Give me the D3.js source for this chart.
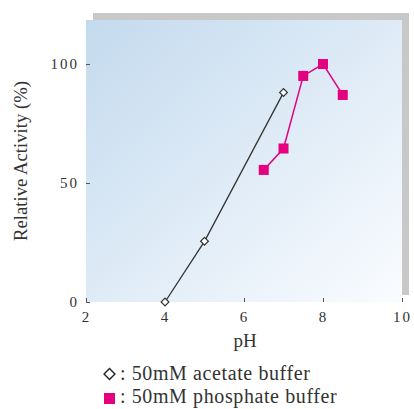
<!DOCTYPE html>
<html>
<head>
<meta charset="utf-8">
<script src="https://cdn.jsdelivr.net/npm/d3@7"></script>
<style>
  body { margin: 0; background: #fff; }
  text { font-family: "Liberation Serif", "DejaVu Serif", serif; fill: #333; }
</style>
</head>
<body>
<div id="chart"></div>
<script>
// pH activity data
const acetatePH = [4, 5, 7];
const acetateAct = [0, 25.5, 88];
const phosphatePH = [6.5, 7, 7.5, 8, 8.5];
const phosphateAct = [55.5, 64.5, 95, 100, 87];
const xTicks = [2, 4, 6, 8, 10];
const yTicks = [0, 50, 100];
const legendLabels = [": 50mM acetate buffer", ": 50mM phosphate buffer"];

const width = 414, height = 409,
      margin = ({top: 20, right: 12, bottom: 107, left: 86});

const pink = "#e4007f";

let svg = d3.select("#chart")
    .append("svg")
    .attr("width", width)
    .attr("height", height);

let x = d3.scaleLinear()
    .domain([2, 10])
    .range([margin.left, width - margin.right]);

let y = d3.scaleLinear()
    .domain([0, 118.5])
    .range([height - margin.bottom, margin.top]);

// background gradient
let grad = svg.append("defs").append("linearGradient")
    .attr("id", "bg")
    .attr("x1", "0%").attr("y1", "0%")
    .attr("x2", "100%").attr("y2", "100%");
grad.append("stop").attr("offset", "0%").attr("stop-color", "#c3daee");
grad.append("stop").attr("offset", "100%").attr("stop-color", "#fafcff");

const pw = x(10) - x(2), ph = y(0) - y(118.5);

// gray shadow panel
svg.append("rect")
    .attr("x", x(2) + 7).attr("y", y(118.5) - 7)
    .attr("width", pw).attr("height", ph)
    .attr("fill", "#c8c8c8");

svg.append("rect")
    .attr("x", x(2)).attr("y", y(118.5))
    .attr("width", pw).attr("height", ph)
    .attr("fill", "url(#bg)");

// axes (ticks inside)
let xAxis = svg.append("g")
    .attr("transform", `translate(0,${y(0)})`)
    .call(d3.axisBottom(x).tickValues(xTicks).tickSize(0).tickPadding(9));
xAxis.select(".domain").remove();
xAxis.selectAll(".tick").append("line")
    .attr("y1", -4).attr("y2", 0)
    .attr("stroke", "#555");
xAxis.selectAll("text")
    .attr("font-size", 15)
    .attr("letter-spacing", 2)
    .attr("fill", "#333");

let yAxis = svg.append("g")
    .attr("transform", `translate(${x(2)},0)`)
    .call(d3.axisLeft(y).tickValues(yTicks).tickSize(0).tickPadding(7));
yAxis.select(".domain").remove();
yAxis.selectAll(".tick").append("line")
    .attr("x1", 0).attr("x2", 4)
    .attr("stroke", "#555");
yAxis.selectAll("text")
    .attr("font-size", 15)
    .attr("letter-spacing", 2)
    .attr("fill", "#333");

// axis titles
svg.append("text")
    .attr("x", 245)
    .attr("y", 347)
    .attr("text-anchor", "middle")
    .attr("font-size", 19)
    .text("pH");

svg.append("text")
    .attr("transform", "translate(27,161) rotate(-90)")
    .attr("text-anchor", "middle")
    .attr("font-size", 18.7)
    .text("Relative Activity (%)");

// lines
let line = d3.line().x(d => x(d[0])).y(d => y(d[1]));

const acetate = d3.zip(acetatePH, acetateAct);
const phosphate = d3.zip(phosphatePH, phosphateAct);

svg.append("path")
    .datum(acetate)
    .attr("d", line)
    .attr("fill", "none")
    .attr("stroke", "#333")
    .attr("stroke-width", 1.3);

svg.append("path")
    .datum(phosphate)
    .attr("d", line)
    .attr("fill", "none")
    .attr("stroke", pink)
    .attr("stroke-width", 1.5);

const diamond = d3.symbol().type(d3.symbolSquare).size(30);

svg.selectAll(".ace")
    .data(acetate)
    .join("path")
    .attr("class", "ace")
    .attr("d", diamond)
    .attr("transform", d => `translate(${x(d[0])},${y(d[1])}) rotate(45)`)
    .attr("fill", "#fff")
    .attr("stroke", "#333")
    .attr("stroke-width", 1.2);

svg.selectAll(".pho")
    .data(phosphate)
    .join("rect")
    .attr("class", "pho")
    .attr("x", d => x(d[0]) - 5)
    .attr("y", d => y(d[1]) - 5)
    .attr("width", 10)
    .attr("height", 10)
    .attr("fill", pink);

// legend
let leg = svg.append("g").attr("transform", "translate(104,0)");

leg.append("path")
    .attr("d", d3.symbol().type(d3.symbolSquare).size(60))
    .attr("transform", "translate(5.5,374) rotate(45)")
    .attr("fill", "#fff")
    .attr("stroke", "#222")
    .attr("stroke-width", 1.4);

leg.append("rect")
    .attr("x", 0).attr("y", 393)
    .attr("width", 11).attr("height", 11)
    .attr("fill", pink);

leg.selectAll(".lt")
    .data(legendLabels)
    .join("text")
    .attr("class", "lt")
    .attr("x", 16)
    .attr("y", (d, i) => 380 + i * 23)
    .attr("font-size", 20)
    .attr("letter-spacing", 0.6)
    .attr("fill", "#222")
    .text(d => d);
</script>
</body>
</html>
